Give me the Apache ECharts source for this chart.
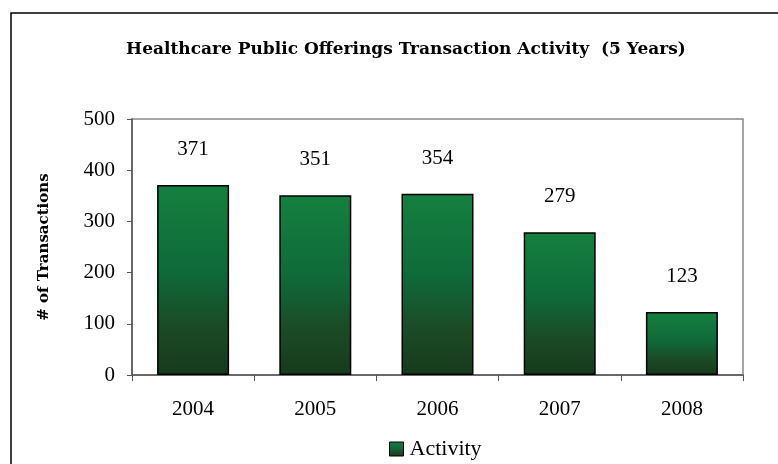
<!DOCTYPE html>
<html>
<head>
<meta charset="utf-8">
<script src="https://cdn.jsdelivr.net/npm/echarts@6/dist/echarts.min.js"></script>
<style>html,body{margin:0;padding:0;background:#fff;}#c{width:778px;height:464px;}</style>
</head>
<body>
<div id="c"></div>
<script>
const categories = ['2004', '2005', '2006', '2007', '2008'];
const activity = [371, 351, 354, 279, 123];
const yTicks = [0, 100, 200, 300, 400, 500];
const seriesName = 'Activity';

const FONT = '"Liberation Serif", "DejaVu Serif", serif';
const TFONT = '"DejaVu Serif", "Liberation Serif", serif';
const barGrad = {
  type: 'linear', x: 0, y: 0, x2: 0, y2: 1,
  colorStops: [
    { offset: 0, color: '#15803f' },
    { offset: 0.45, color: '#0f6a3a' },
    { offset: 0.75, color: '#1b4a26' },
    { offset: 1, color: '#173a1c' }
  ]
};
const chart = echarts.init(document.getElementById('c'), null, { renderer: 'canvas' });
chart.setOption({
  animation: false,
  backgroundColor: '#fff',
  graphic: [{
    type: 'rect', shape: { x: 11, y: 13, width: 800, height: 500 },
    style: { fill: 'none', stroke: '#000', lineWidth: 1.5 }, z: 100
  }],
  title: {
    text: 'Healthcare Public Offerings Transaction Activity  (5 Years)',
    left: 401, top: 36, textAlign: 'center',
    textStyle: { fontFamily: TFONT, fontWeight: 'bold', fontSize: 17, color: '#000' }
  },
  legend: {
    data: [seriesName], top: 433, left: 384,
    icon: 'rect', itemWidth: 14, itemHeight: 14, itemGap: 6,
    textStyle: { fontFamily: FONT, fontSize: 22, color: '#000', padding: [0, 0, 0, 1] },
    itemStyle: { borderColor: '#000', borderWidth: 1 }
  },
  grid: { left: 132, right: 35, top: 119, bottom: 89, show: true, borderColor: '#888', borderWidth: 1.5 },
  xAxis: {
    type: 'category', data: categories,
    axisLine: { lineStyle: { color: '#555', width: 1.5 } },
    axisTick: { show: true, alignWithLabel: false, length: 6, lineStyle: { color: '#555' } },
    axisLabel: { fontFamily: FONT, fontSize: 21, color: '#000', margin: 24 }
  },
  yAxis: {
    type: 'value', min: yTicks[0], max: yTicks[yTicks.length - 1], interval: 100,
    name: '# of Transactions', nameLocation: 'middle', nameGap: 80,
    nameTextStyle: { fontFamily: TFONT, fontWeight: 'bold', fontSize: 15, color: '#000' },
    axisLine: { show: true, lineStyle: { color: '#555', width: 1.5 } },
    axisTick: { show: true, length: 5, lineStyle: { color: '#555' } },
    splitLine: { show: false },
    axisLabel: { fontFamily: FONT, fontSize: 21, color: '#000', margin: 17 }
  },
  series: [{
    name: seriesName, type: 'bar', data: activity, barWidth: 72,
    itemStyle: { color: barGrad, borderColor: '#000', borderWidth: 1.5 },
    label: { show: true, position: 'top', distance: 25, fontFamily: FONT, fontSize: 21, color: '#000' }
  }]
});
</script>
</body>
</html>
